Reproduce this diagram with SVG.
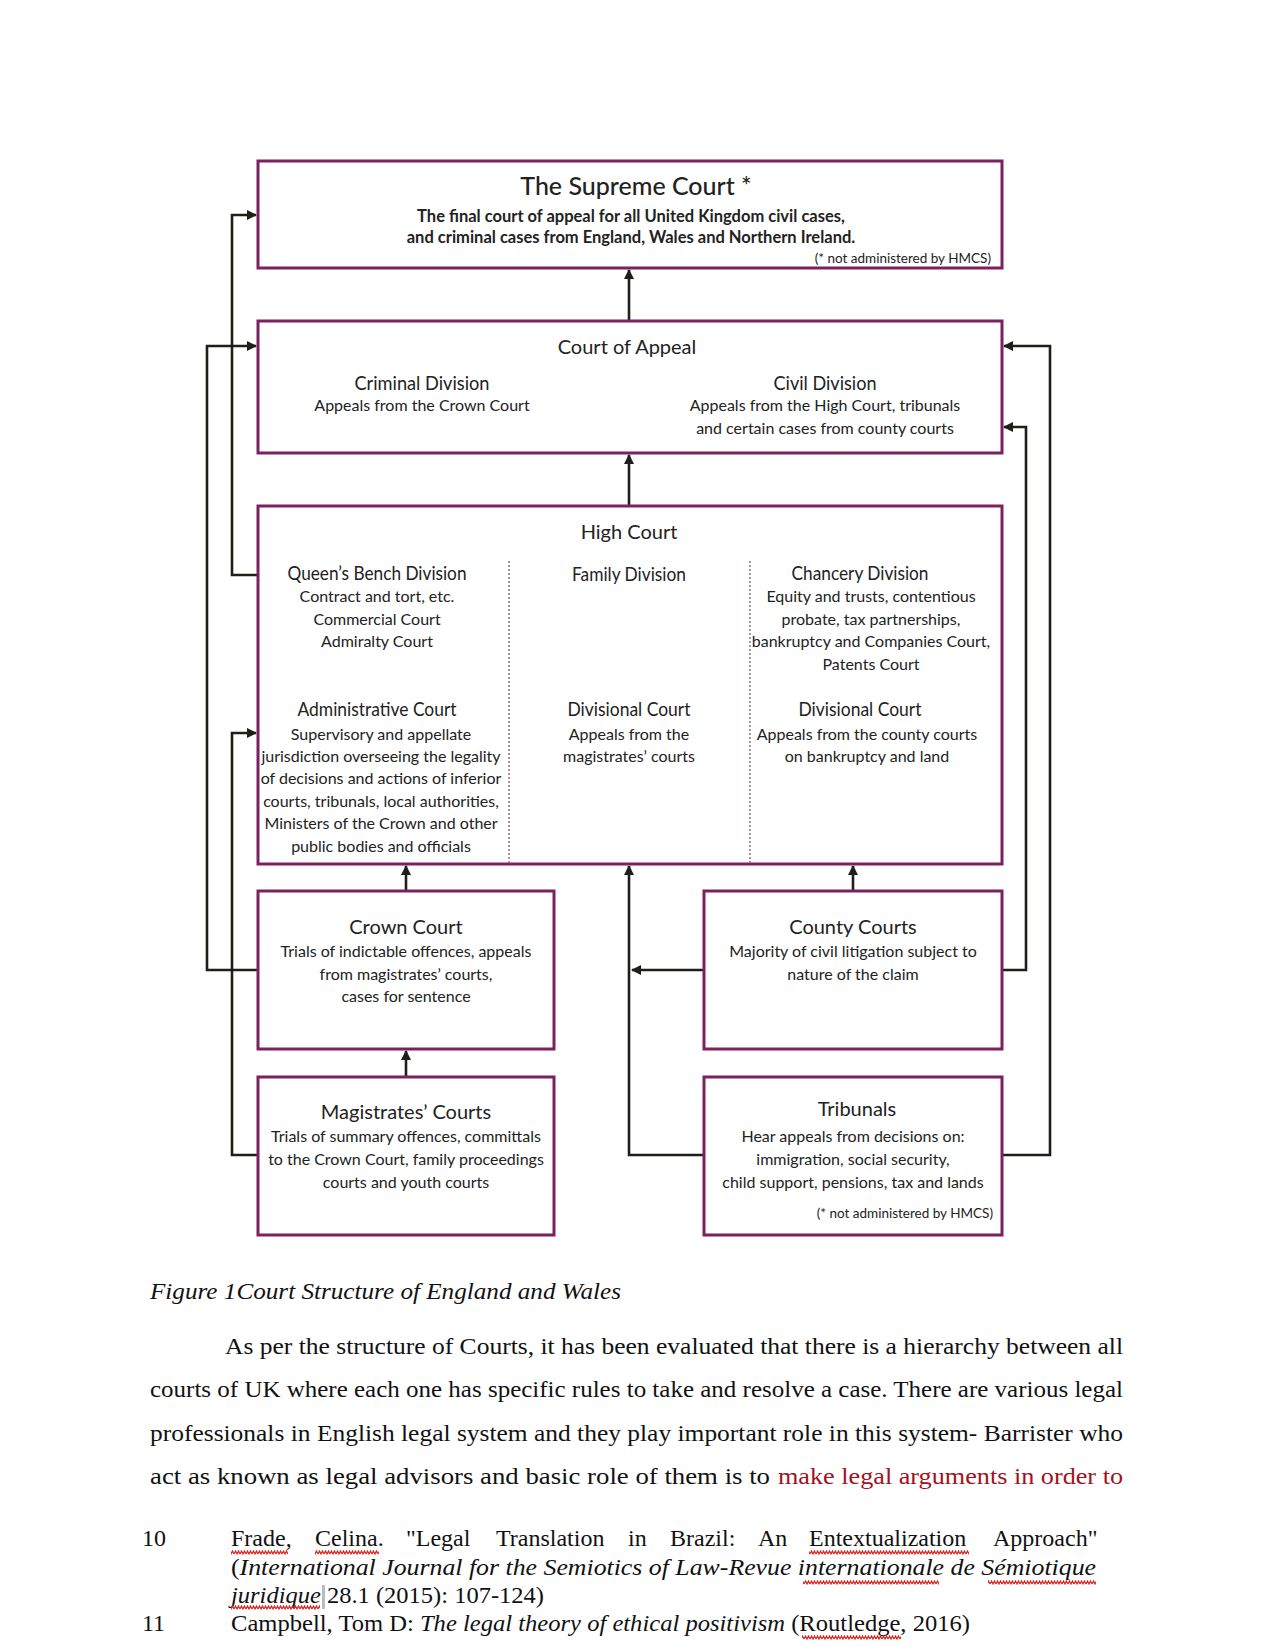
<svg xmlns="http://www.w3.org/2000/svg" width="1275" height="1650" viewBox="0 0 1275 1650">
<style>
.box{fill:#fff;stroke:#7b2160;stroke-width:3}
.div{stroke:#8c7080;stroke-width:1.5;stroke-dasharray:2 2}
.con{fill:none;stroke:#1f1f1a;stroke-width:2.6}
.t{font-family:Lato,"Noto Sans",sans-serif;fill:#222;text-anchor:middle}
.h1{font-size:25px;font-weight:500}
.h2{font-size:20px}
.b{font-size:16px}
.sb{font-size:16.5px;font-weight:bold}
.sm{font-size:13.5px;text-anchor:end}
.doc{font-family:"Liberation Serif",serif;fill:#111;font-size:24px}
.it{font-style:italic}
.red{fill:#a3121c}
</style>
<defs>
<marker id="ah" viewBox="0 0 10 10" refX="9" refY="5" markerWidth="4" markerHeight="4" orient="auto" markerUnits="strokeWidth">
<path d="M0,0 L10,5 L0,10 Z" fill="#1f1f1a"/>
</marker>
<pattern id="sq" width="6" height="5" patternUnits="userSpaceOnUse">
<path d="M0,4 L1.5,1 L3,4 L4.5,1 L6,4" fill="none" stroke="#e0201c" stroke-width="1.2"/>
</pattern>
</defs>

<g id="connectors">
<path class="con" d="M629,321 V270" marker-end="url(#ah)"/>
<path class="con" d="M629,506 V455" marker-end="url(#ah)"/>
<path class="con" d="M406,891 V866" marker-end="url(#ah)"/>
<path class="con" d="M853,891 V866" marker-end="url(#ah)"/>
<path class="con" d="M406,1077 V1051" marker-end="url(#ah)"/>
<path class="con" d="M704,1155 H629 V866" marker-end="url(#ah)"/>
<path class="con" d="M704,970 H632" marker-end="url(#ah)"/>
<path class="con" d="M258,970 H207 V346 H256" marker-end="url(#ah)"/>
<path class="con" d="M258,1155 H232 V733 H256" marker-end="url(#ah)"/>
<path class="con" d="M258,575 H232 V215 H256" marker-end="url(#ah)"/>
<path class="con" d="M1002,1155 H1050 V346 H1004" marker-end="url(#ah)"/>
<path class="con" d="M1002,970 H1026 V427 H1004" marker-end="url(#ah)"/>
</g>

<g id="supreme-court">
<rect class="box" x="258" y="161" width="744" height="107"/>
<text class="t h1" x="636" y="195">The Supreme Court *</text>
<text class="t sb" x="631" y="222">The final court of appeal for all United Kingdom civil cases,</text>
<text class="t sb" x="631" y="243">and criminal cases from England, Wales and Northern Ireland.</text>
<text class="t sm" x="991" y="263">(* not administered by HMCS)</text>
</g>

<g id="court-of-appeal">
<rect class="box" x="258" y="321" width="744" height="132"/>
<text class="t h2" x="627" y="354">Court of Appeal</text>
<text class="t h2" x="422" y="390" textLength="135" lengthAdjust="spacingAndGlyphs">Criminal Division</text>
<text class="t b" x="422" y="411">Appeals from the Crown Court</text>
<text class="t h2" x="825" y="390" textLength="103" lengthAdjust="spacingAndGlyphs">Civil Division</text>
<text class="t b" x="825" y="411">Appeals from the High Court, tribunals</text>
<text class="t b" x="825" y="434">and certain cases from county courts</text>
</g>

<g id="high-court">
<rect class="box" x="258" y="506" width="744" height="358"/>
<line class="div" x1="509" y1="561" x2="509" y2="863"/>
<line class="div" x1="750" y1="561" x2="750" y2="863"/>
<text class="t h2" x="629" y="539">High Court</text>
<text class="t h2" x="377" y="580" textLength="179" lengthAdjust="spacingAndGlyphs">Queen’s Bench Division</text>
<text class="t b" x="377" y="602">Contract and tort, etc.</text>
<text class="t b" x="377" y="625">Commercial Court</text>
<text class="t b" x="377" y="647">Admiralty Court</text>
<text class="t h2" x="629" y="581" textLength="114" lengthAdjust="spacingAndGlyphs">Family Division</text>
<text class="t h2" x="860" y="580" textLength="137" lengthAdjust="spacingAndGlyphs">Chancery Division</text>
<text class="t b" x="871" y="602">Equity and trusts, contentious</text>
<text class="t b" x="871" y="625">probate, tax partnerships,</text>
<text class="t b" x="871" y="647">bankruptcy and Companies Court,</text>
<text class="t b" x="871" y="670">Patents Court</text>
<text class="t h2" x="377" y="716" textLength="159" lengthAdjust="spacingAndGlyphs">Administrative Court</text>
<text class="t b" x="381" y="740">Supervisory and appellate</text>
<text class="t b" x="381" y="762">jurisdiction overseeing the legality</text>
<text class="t b" x="381" y="784">of decisions and actions of inferior</text>
<text class="t b" x="381" y="807">courts, tribunals, local authorities,</text>
<text class="t b" x="381" y="829">Ministers of the Crown and other</text>
<text class="t b" x="381" y="852">public bodies and officials</text>
<text class="t h2" x="629" y="716" textLength="123" lengthAdjust="spacingAndGlyphs">Divisional Court</text>
<text class="t b" x="629" y="740">Appeals from the</text>
<text class="t b" x="629" y="762">magistrates’ courts</text>
<text class="t h2" x="860" y="716" textLength="123" lengthAdjust="spacingAndGlyphs">Divisional Court</text>
<text class="t b" x="867" y="740">Appeals from the county courts</text>
<text class="t b" x="867" y="762">on bankruptcy and land</text>
</g>

<g id="crown-court">
<rect class="box" x="258" y="891" width="296" height="158"/>
<text class="t h2" x="406" y="934">Crown Court</text>
<text class="t b" x="406" y="957">Trials of indictable offences, appeals</text>
<text class="t b" x="406" y="980">from magistrates’ courts,</text>
<text class="t b" x="406" y="1002">cases for sentence</text>
</g>

<g id="county-courts">
<rect class="box" x="704" y="891" width="298" height="158"/>
<text class="t h2" x="853" y="934">County Courts</text>
<text class="t b" x="853" y="957">Majority of civil litigation subject to</text>
<text class="t b" x="853" y="980">nature of the claim</text>
</g>

<g id="magistrates-courts">
<rect class="box" x="258" y="1077" width="296" height="158"/>
<text class="t h2" x="406" y="1119">Magistrates’ Courts</text>
<text class="t b" x="406" y="1142">Trials of summary offences, committals</text>
<text class="t b" x="406" y="1165">to the Crown Court, family proceedings</text>
<text class="t b" x="406" y="1188">courts and youth courts</text>
</g>

<g id="tribunals">
<rect class="box" x="704" y="1077" width="298" height="158"/>
<text class="t h2" x="857" y="1116">Tribunals</text>
<text class="t b" x="853" y="1142">Hear appeals from decisions on:</text>
<text class="t b" x="853" y="1165">immigration, social security,</text>
<text class="t b" x="853" y="1188">child support, pensions, tax and lands</text>
<text class="t sm" x="993" y="1218">(* not administered by HMCS)</text>
</g>

<g id="document-text">
<text class="doc it" x="150" y="1299" textLength="471" lengthAdjust="spacingAndGlyphs">Figure 1Court Structure of England and Wales</text>
<text class="doc" x="225" y="1354" textLength="898" lengthAdjust="spacingAndGlyphs">As per the structure of Courts, it has been evaluated that there is a hierarchy between all</text>
<text class="doc" x="150" y="1397" textLength="973" lengthAdjust="spacingAndGlyphs">courts of UK where each one has specific rules to take and resolve a case. There are various legal</text>
<text class="doc" x="150" y="1441" textLength="973" lengthAdjust="spacingAndGlyphs">professionals  in English legal system and they play important role in this system- Barrister who</text>
<text class="doc" x="150" y="1484" textLength="620" lengthAdjust="spacingAndGlyphs">act as known as legal advisors and basic role of them is to</text>
<text class="doc red" x="778" y="1484" textLength="345" lengthAdjust="spacingAndGlyphs">make legal arguments in order to</text>
<text class="doc" x="142" y="1546">10</text>
<text class="doc" y="1546"><tspan x="231">Frade,</tspan><tspan x="315">Celina.</tspan><tspan x="406">"Legal</tspan><tspan x="496">Translation</tspan><tspan x="628">in</tspan><tspan x="670">Brazil:</tspan><tspan x="758">An</tspan><tspan x="809">Entextualization</tspan><tspan x="993">Approach"</tspan></text>
<text class="doc" x="231" y="1575" textLength="865" lengthAdjust="spacingAndGlyphs">(<tspan class="it">International Journal for the Semiotics of Law-Revue internationale de Sémiotique</tspan></text>
<text class="doc" x="231" y="1603" textLength="313" lengthAdjust="spacingAndGlyphs"><tspan class="it">juridique</tspan> 28.1 (2015): 107-124)</text>
<text class="doc" x="142" y="1631">11</text>
<text class="doc" x="231" y="1631" textLength="739" lengthAdjust="spacingAndGlyphs">Campbell, Tom D: <tspan class="it">The legal theory of ethical positivism</tspan> (Routledge, 2016)</text>
<rect x="322" y="1585" width="3" height="24" fill="#bbb"/>
<rect x="231" y="1550" width="57" height="5" fill="url(#sq)"/>
<rect x="315" y="1550" width="64" height="5" fill="url(#sq)"/>
<rect x="809" y="1550" width="160" height="5" fill="url(#sq)"/>
<rect x="803" y="1580" width="136" height="5" fill="url(#sq)"/>
<rect x="988" y="1580" width="108" height="5" fill="url(#sq)"/>
<rect x="231" y="1605" width="89" height="5" fill="url(#sq)"/>
<rect x="802" y="1635" width="99" height="5" fill="url(#sq)"/>
</g>
</svg>
